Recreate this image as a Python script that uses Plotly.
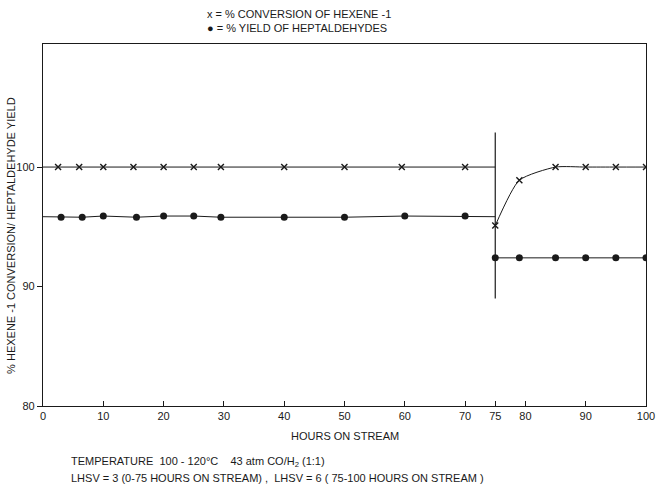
import plotly.graph_objects as go

# ---- data ----
SWITCH_HOUR = 75  # LHSV changed from 3 to 6

conv_hours_1 = [2.5, 6, 10, 15, 20, 25, 29.5, 40, 50, 59.5, 70]
conv_vals_1 = [100, 100, 100, 100, 100, 100, 100, 100, 100, 100, 100]
conv_hours_2 = [75, 79, 85, 90, 95, 100]
conv_vals_2 = [95.1, 98.9, 100, 100, 100, 100]

yield_hours_1 = [3, 6.5, 10, 15.5, 20, 25, 29.5, 40, 50, 60, 70]
yield_vals_1 = [95.8, 95.8, 95.9, 95.8, 95.9, 95.9, 95.8, 95.8, 95.8, 95.9, 95.9]
yield_hours_2 = [75, 79, 85, 90, 95, 100]
yield_vals_2 = [92.4, 92.4, 92.4, 92.4, 92.4, 92.4]

x_ticks = [0, 10, 20, 30, 40, 50, 60, 70, 75, 80, 90, 100]
y_ticks = [80, 90, 100]
switch_line_span = [89.0, 102.9]

INK = "#1a1a1a"
FONT = "Liberation Sans"

fig = go.Figure()


def mean(v):
    return sum(v) / len(v)


# connecting lines (period 1 runs from the axis to the switch line)
fig.add_trace(go.Scatter(
    x=[0] + conv_hours_1 + [SWITCH_HOUR],
    y=[mean(conv_vals_1)] + conv_vals_1 + [mean(conv_vals_1)],
    mode="lines", line=dict(color=INK, width=1), hoverinfo="skip", showlegend=False))
fig.add_trace(go.Scatter(
    x=[0] + yield_hours_1 + [SWITCH_HOUR],
    y=[mean(yield_vals_1)] + yield_vals_1 + [mean(yield_vals_1)],
    mode="lines", line=dict(color=INK, width=1), hoverinfo="skip", showlegend=False))
fig.add_trace(go.Scatter(
    x=conv_hours_2, y=conv_vals_2,
    mode="lines", line=dict(color=INK, width=1, shape="spline", smoothing=0.6),
    hoverinfo="skip", showlegend=False))
fig.add_trace(go.Scatter(
    x=yield_hours_2, y=yield_vals_2,
    mode="lines", line=dict(color=INK, width=1), hoverinfo="skip", showlegend=False))

# markers
fig.add_trace(go.Scatter(
    x=conv_hours_1 + conv_hours_2, y=conv_vals_1 + conv_vals_2,
    mode="markers", name="% conversion of hexene-1",
    marker=dict(symbol="x-thin", size=6, line=dict(color=INK, width=1.4), color=INK),
    showlegend=False))
fig.add_trace(go.Scatter(
    x=yield_hours_1 + yield_hours_2, y=yield_vals_1 + yield_vals_2,
    mode="markers", name="% yield of heptaldehydes",
    marker=dict(symbol="circle", size=7, color=INK),
    showlegend=False))

# switch-over line at 75 h
fig.add_shape(type="line", xref="x", yref="y",
              x0=SWITCH_HOUR, x1=SWITCH_HOUR,
              y0=switch_line_span[0], y1=switch_line_span[1],
              line=dict(color=INK, width=1.2))

txt = dict(family=FONT, size=11, color=INK)

annotations = [
    dict(text="x = % CONVERSION OF HEXENE -1", x=0.268, y=1.083,
         xanchor="left", yanchor="middle"),
    dict(text="● = % YIELD OF HEPTALDEHYDES", x=0.268, y=1.044,
         xanchor="left", yanchor="middle"),
    dict(text="% HEXENE -1 CONVERSION/ HEPTALDEHYDE YIELD", x=-0.053, y=0.47,
         xanchor="center", yanchor="middle", textangle=-90),
    dict(text="HOURS ON STREAM", x=0.5, y=-0.083, xanchor="center", yanchor="middle"),
    dict(text="TEMPERATURE  100 - 120°C    43 atm CO/H<sub>2</sub> (1:1)",
         x=0.043, y=-0.155, xanchor="left", yanchor="middle"),
    dict(text="LHSV = 3 (0-75 HOURS ON STREAM) ,  LHSV = 6 ( 75-100 HOURS ON STREAM )",
         x=0.043, y=-0.199, xanchor="left", yanchor="middle"),
]
for a in annotations:
    a.update(xref="paper", yref="paper", showarrow=False, font=txt)

fig.update_layout(
    width=656, height=489,
    margin=dict(l=43, r=10, t=44, b=83),
    paper_bgcolor="white", plot_bgcolor="white",
    font=txt,
    showlegend=False,
    annotations=annotations,
    xaxis=dict(range=[0, 100], tickvals=x_ticks, ticktext=[str(v) for v in x_ticks],
               ticks="inside", ticklen=5, tickcolor=INK, showgrid=False, zeroline=False,
               showline=True, linecolor=INK, linewidth=1.2, mirror=True,
               tickfont=txt, automargin=False),
    yaxis=dict(range=[80, 110.3], tickvals=y_ticks, ticktext=[str(v) for v in y_ticks],
               ticks="outside", ticklen=5, tickcolor=INK, showgrid=False, zeroline=False,
               showline=True, linecolor=INK, linewidth=1.2, mirror=True,
               tickfont=txt, automargin=False),
)

fig.write_html(
    "out.html",
    config={"displayModeBar": False},
    post_script="document.body.style.margin='0';document.body.style.padding='0';",
)
